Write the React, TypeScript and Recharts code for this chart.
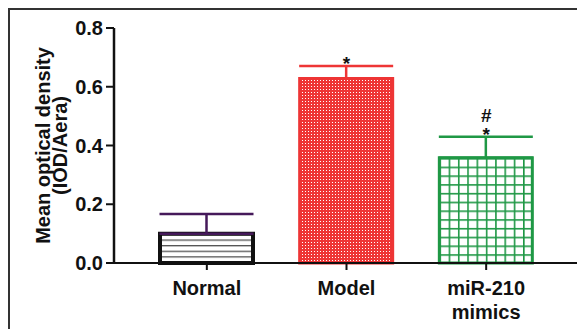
import React from 'react';
import { BarChart, Bar, XAxis, YAxis, ErrorBar, ReferenceDot, Label } from 'recharts';

const categories = ['Normal', 'Model', 'miR-210\nmimics'];
const seriesKeys = ['normal', 'model', 'mimics'];
const means = [0.1, 0.628, 0.358];
const sems = [0.067, 0.043, 0.072];
const marks = ['', '*', '#\n*'];
const yTicks = [0, 0.2, 0.4, 0.6, 0.8];

const FONT = '"Liberation Sans", Arial, Helvetica, sans-serif';
const INK = '#111';

const seriesStyle: Record<string, { fill: string; stroke: string; strokeWidth: number; err: string }> = {
  normal: { fill: 'url(#hatchNormal)', stroke: INK, strokeWidth: 4, err: '#45195a' },
  model: { fill: 'url(#checkRed)', stroke: '#ee3535', strokeWidth: 3, err: '#ee3535' },
  mimics: { fill: 'url(#gridGreen)', stroke: '#1f9845', strokeWidth: 3, err: '#1f9845' },
};

// one row per group, each group has its own series so colours/error bars can differ
const chartData = categories.map((name, i) => ({
  name,
  [seriesKeys[i]]: means[i],
  [`${seriesKeys[i]}Err`]: [0, sems[i]],
}));

const CategoryTick = (props: any) => {
  const { x, y, payload } = props;
  const lines = String(payload.value).split('\n');
  return (
    <text x={x} y={y + 23} textAnchor="middle" fontFamily={FONT} fontWeight="bold" fontSize={20} fill={INK}>
      {lines.map((l, i) => (
        <tspan key={i} x={x} dy={i === 0 ? 0 : 24}>
          {l}
        </tspan>
      ))}
    </text>
  );
};

const YTitle = (props: any) => {
  const { viewBox } = props;
  const cy = viewBox.y + viewBox.height / 2;
  return (
    <g transform={`translate(42, ${cy}) rotate(-90)`} fontFamily={FONT} fontWeight="bold" fontSize={20} fill={INK}>
      <text x={0} y={0} textAnchor="middle">Mean optical density</text>
      <text x={0} y={17} textAnchor="middle">(IOD/Aera)</text>
    </g>
  );
};

const markLabel = (text: string) => (props: any) => {
  const { viewBox } = props;
  const x = viewBox.x + (viewBox.width || 0) / 2;
  const y = viewBox.y;
  const lines = text.split('\n');
  return (
    <text textAnchor="middle" fontFamily={FONT} fontWeight="bold" fontSize={19} fill={INK}>
      {lines.map((l, i) => (
        <tspan key={i} x={x} y={y + 4 - (lines.length - 1 - i) * 19}>
          {l}
        </tspan>
      ))}
    </text>
  );
};

export default function App() {
  return (
    <div style={{ position: 'relative', width: 577, height: 321 }}>
      <BarChart
        width={577}
        height={321}
        data={chartData}
        margin={{ top: 20, right: 7, bottom: 0, left: 0 }}
        barSize={93}
      >
        <defs>
          <pattern id="hatchNormal" patternUnits="userSpaceOnUse" width={10} height={5.6}>
            <rect x={0} y={0} width={10} height={5.6} fill="#fff" />
            <rect x={0} y={2} width={10} height={1.1} fill="#333" />
          </pattern>
          <pattern id="checkRed" patternUnits="userSpaceOnUse" width={3} height={3}>
            <rect x={0} y={0} width={3} height={3} fill="#ee3535" />
            <rect x={0} y={0} width={1} height={1} fill="#fff" />
          </pattern>
          <pattern id="gridGreen" patternUnits="objectBoundingBox" width={0.1} height={0.0833}>
            <rect x={0} y={0} width={20} height={20} fill="#fff" />
            <rect x={0} y={0} width={1.6} height={20} fill="#1f9845" />
            <rect x={0} y={0} width={20} height={1.6} fill="#1f9845" />
          </pattern>
        </defs>
        <XAxis
          dataKey="name"
          interval={0}
          height={66}
          padding={{ left: 23, right: 22 }}
          axisLine={{ stroke: INK, strokeWidth: 2 }}
          tickLine={{ stroke: INK, strokeWidth: 2 }}
          tickSize={7}
          tick={<CategoryTick />}
        />
        <YAxis
          width={106}
          domain={[0, 0.8]}
          ticks={yTicks}
          tickFormatter={(v: number) => v.toFixed(1)}
          axisLine={{ stroke: INK, strokeWidth: 2.5 }}
          tickLine={{ stroke: INK, strokeWidth: 2 }}
          tickSize={8}
          tickMargin={3}
          tick={{ fill: INK, fontFamily: FONT, fontWeight: 'bold', fontSize: 20 }}
        >
          <Label content={<YTitle />} />
        </YAxis>
        {seriesKeys.map((key) => {
          const s = seriesStyle[key];
          return (
            <Bar
              key={key}
              dataKey={key}
              stackId="g"
              fill={s.fill}
              stroke={s.stroke}
              strokeWidth={s.strokeWidth}
              isAnimationActive={false}
            >
              <ErrorBar dataKey={`${key}Err`} width={47} stroke={s.err} strokeWidth={2.5} direction="y" />
            </Bar>
          );
        })}
        {categories.map((cat, i) =>
          marks[i] ? (
            <ReferenceDot
              key={cat}
              x={cat}
              y={means[i] + sems[i]}
              r={0}
              fill="none"
              stroke="none"
              label={markLabel(marks[i])}
            />
          ) : null,
        )}
      </BarChart>
      <div
        style={{
          position: 'absolute',
          top: 0,
          left: 0,
          width: 577,
          height: 321,
          boxSizing: 'border-box',
          borderTop: '2px solid #333',
          borderLeft: '2px solid #333',
          pointerEvents: 'none',
        }}
      />
    </div>
  );
}
